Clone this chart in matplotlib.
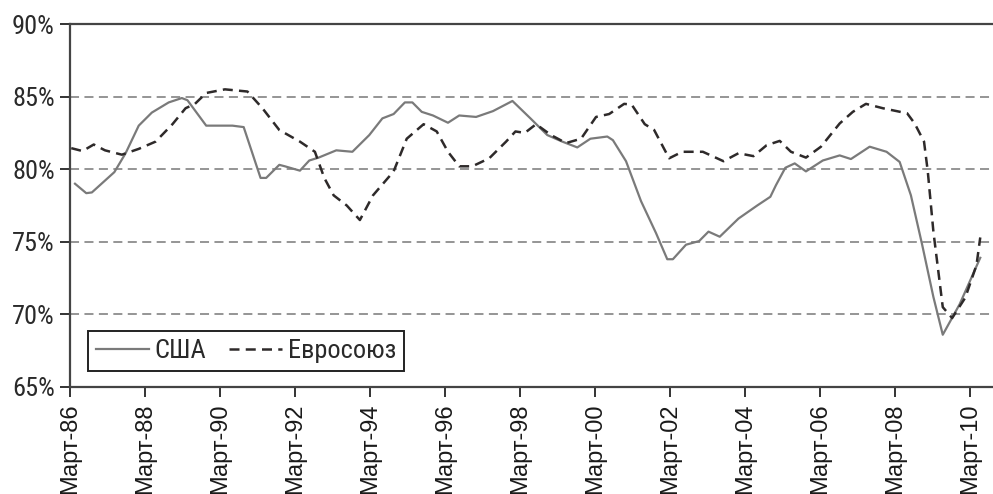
import matplotlib.pyplot as plt

# capacity utilization (decimal years)
us_t = [1986.3, 1986.6, 1986.75, 1987.35, 1987.65, 1988.0, 1988.35, 1988.8, 1989.15, 1989.3,
        1989.8, 1990.5, 1990.8, 1991.25, 1991.4, 1991.75, 1991.9, 1992.3, 1992.55, 1992.8,
        1993.27, 1993.7, 1994.15, 1994.5, 1994.8, 1995.1, 1995.3, 1995.55, 1995.85, 1996.25,
        1996.55, 1997.0, 1997.45, 1997.97, 1998.45, 1998.9, 1999.3, 1999.7, 2000.05, 2000.5,
        2000.65, 2001.0, 2001.4, 2001.8, 2002.1, 2002.25, 2002.6, 2002.95, 2003.2, 2003.5,
        2004.0, 2004.5, 2004.85, 2005.0, 2005.25, 2005.5, 2005.8, 2006.25, 2006.7, 2007.0,
        2007.5, 2007.95, 2008.3, 2008.6, 2008.9, 2009.2, 2009.45, 2009.9, 2010.45]
us_v = [79.0, 78.35, 78.4, 79.8, 81.1, 83.0, 83.9, 84.6, 84.9, 84.75,
        83.0, 83.0, 82.9, 79.4, 79.4, 80.3, 80.2, 79.9, 80.6, 80.8,
        81.3, 81.2, 82.35, 83.5, 83.8, 84.6, 84.6, 83.95, 83.7, 83.2,
        83.7, 83.6, 84.0, 84.7, 83.5, 82.35, 81.9, 81.5, 82.1, 82.25,
        82.0, 80.55, 77.8, 75.6, 73.8, 73.8, 74.8, 75.05, 75.7, 75.35,
        76.6, 77.5, 78.1, 78.9, 80.1, 80.4, 79.85, 80.6, 80.95, 80.7,
        81.55, 81.2, 80.5, 78.2, 74.8, 71.2, 68.6, 70.7, 73.9]

eu_t = [1986.2, 1986.5, 1986.8, 1987.1, 1987.55, 1988.0, 1988.45, 1988.9, 1989.25, 1989.5,
        1989.8, 1990.3, 1990.9, 1991.3, 1991.75, 1992.3, 1992.7, 1992.95, 1993.2, 1993.55,
        1993.9, 1994.25, 1994.8, 1995.15, 1995.6, 1995.95, 1996.25, 1996.55, 1996.9, 1997.35,
        1997.8, 1998.05, 1998.3, 1998.6, 1999.0, 1999.4, 1999.8, 2000.2, 2000.55, 2000.95,
        2001.15, 2001.5, 2001.75, 2002.15, 2002.5, 2003.05, 2003.6, 2004.0, 2004.4, 2004.75,
        2005.1, 2005.4, 2005.8, 2006.2, 2006.7, 2007.05, 2007.4, 2007.85, 2008.5, 2008.7,
        2008.95, 2009.05, 2009.2, 2009.45, 2009.7, 2010.05, 2010.35, 2010.45]
eu_v = [81.45, 81.25, 81.7, 81.3, 81.0, 81.4, 81.9, 83.1, 84.2, 84.5,
        85.25, 85.5, 85.35, 84.2, 82.7, 81.9, 81.2, 79.4, 78.2, 77.5,
        76.5, 78.2, 79.85, 82.1, 83.1, 82.6, 81.2, 80.2, 80.2, 80.75,
        81.9, 82.6, 82.5, 83.1, 82.35, 81.8, 82.1, 83.6, 83.8, 84.5,
        84.45, 83.1, 82.7, 80.75, 81.2, 81.2, 80.55, 81.1, 80.9, 81.65,
        81.95, 81.2, 80.8, 81.55, 83.15, 83.95, 84.5, 84.2, 83.85, 83.15,
        81.9, 79.85, 75.7, 70.5, 69.75, 71.15, 73.4, 75.3]

tick_years = list(range(1986, 2011, 2))
tick_labels = ["Март-%02d" % (y % 100) for y in tick_years]
y_ticks = [65, 70, 75, 80, 85, 90]

cond = ["Roboto Condensed", "DejaVu Sans"]

fig = plt.figure(figsize=(9.93, 4.94), dpi=100)
ax = fig.add_axes([0.0705, 0.2166, 0.9295, 0.7348])

for y in [70, 75, 80, 85]:
    ax.axhline(y, color="#8c8c8c", lw=1.3, ls=(0, (5, 3)), zorder=1)

ax.plot(us_t, us_v, color="#7a7a7a", lw=1.6, label="США", zorder=3)
ax.plot(eu_t, eu_v, color="#2e2a2a", lw=1.8, ls=(0, (4, 2.5)), label="Евросоюз", zorder=3)

ax.set_xlim(1986 + 2 / 12, 2010.79)
ax.set_ylim(65, 90)
ax.set_yticks(y_ticks)
ax.set_yticklabels(["%d%%" % v for v in y_ticks], family=cond, fontsize=19, color="#2a2a2a")
ax.set_xticks([y + 2 / 12 for y in tick_years])
ax.set_xticklabels(tick_labels, rotation=90, family=["Liberation Sans", "DejaVu Sans"],
                   fontsize=17, color="#1a1a1a")
ax.tick_params(axis="both", direction="out", length=7, width=1.4, color="#333333")
ax.tick_params(axis="x", pad=5)
ax.tick_params(axis="y", pad=4)

for side in ["left", "top", "bottom"]:
    ax.spines[side].set_color("#444444")
    ax.spines[side].set_linewidth(1.6)
ax.spines["right"].set_visible(False)

leg = ax.legend(loc="lower left", bbox_to_anchor=(0.0195, 0.044), borderaxespad=0, ncol=2,
                frameon=True, fancybox=False, framealpha=1, edgecolor="#222222",
                borderpad=0.3, handlelength=2.0, handletextpad=0.2, columnspacing=0.9,
                prop={"family": cond, "size": 19})
leg.get_frame().set_linewidth(1.4)
for t in leg.get_texts():
    t.set_color("#2a2a2a")

fig.savefig("out.png", dpi=100)
